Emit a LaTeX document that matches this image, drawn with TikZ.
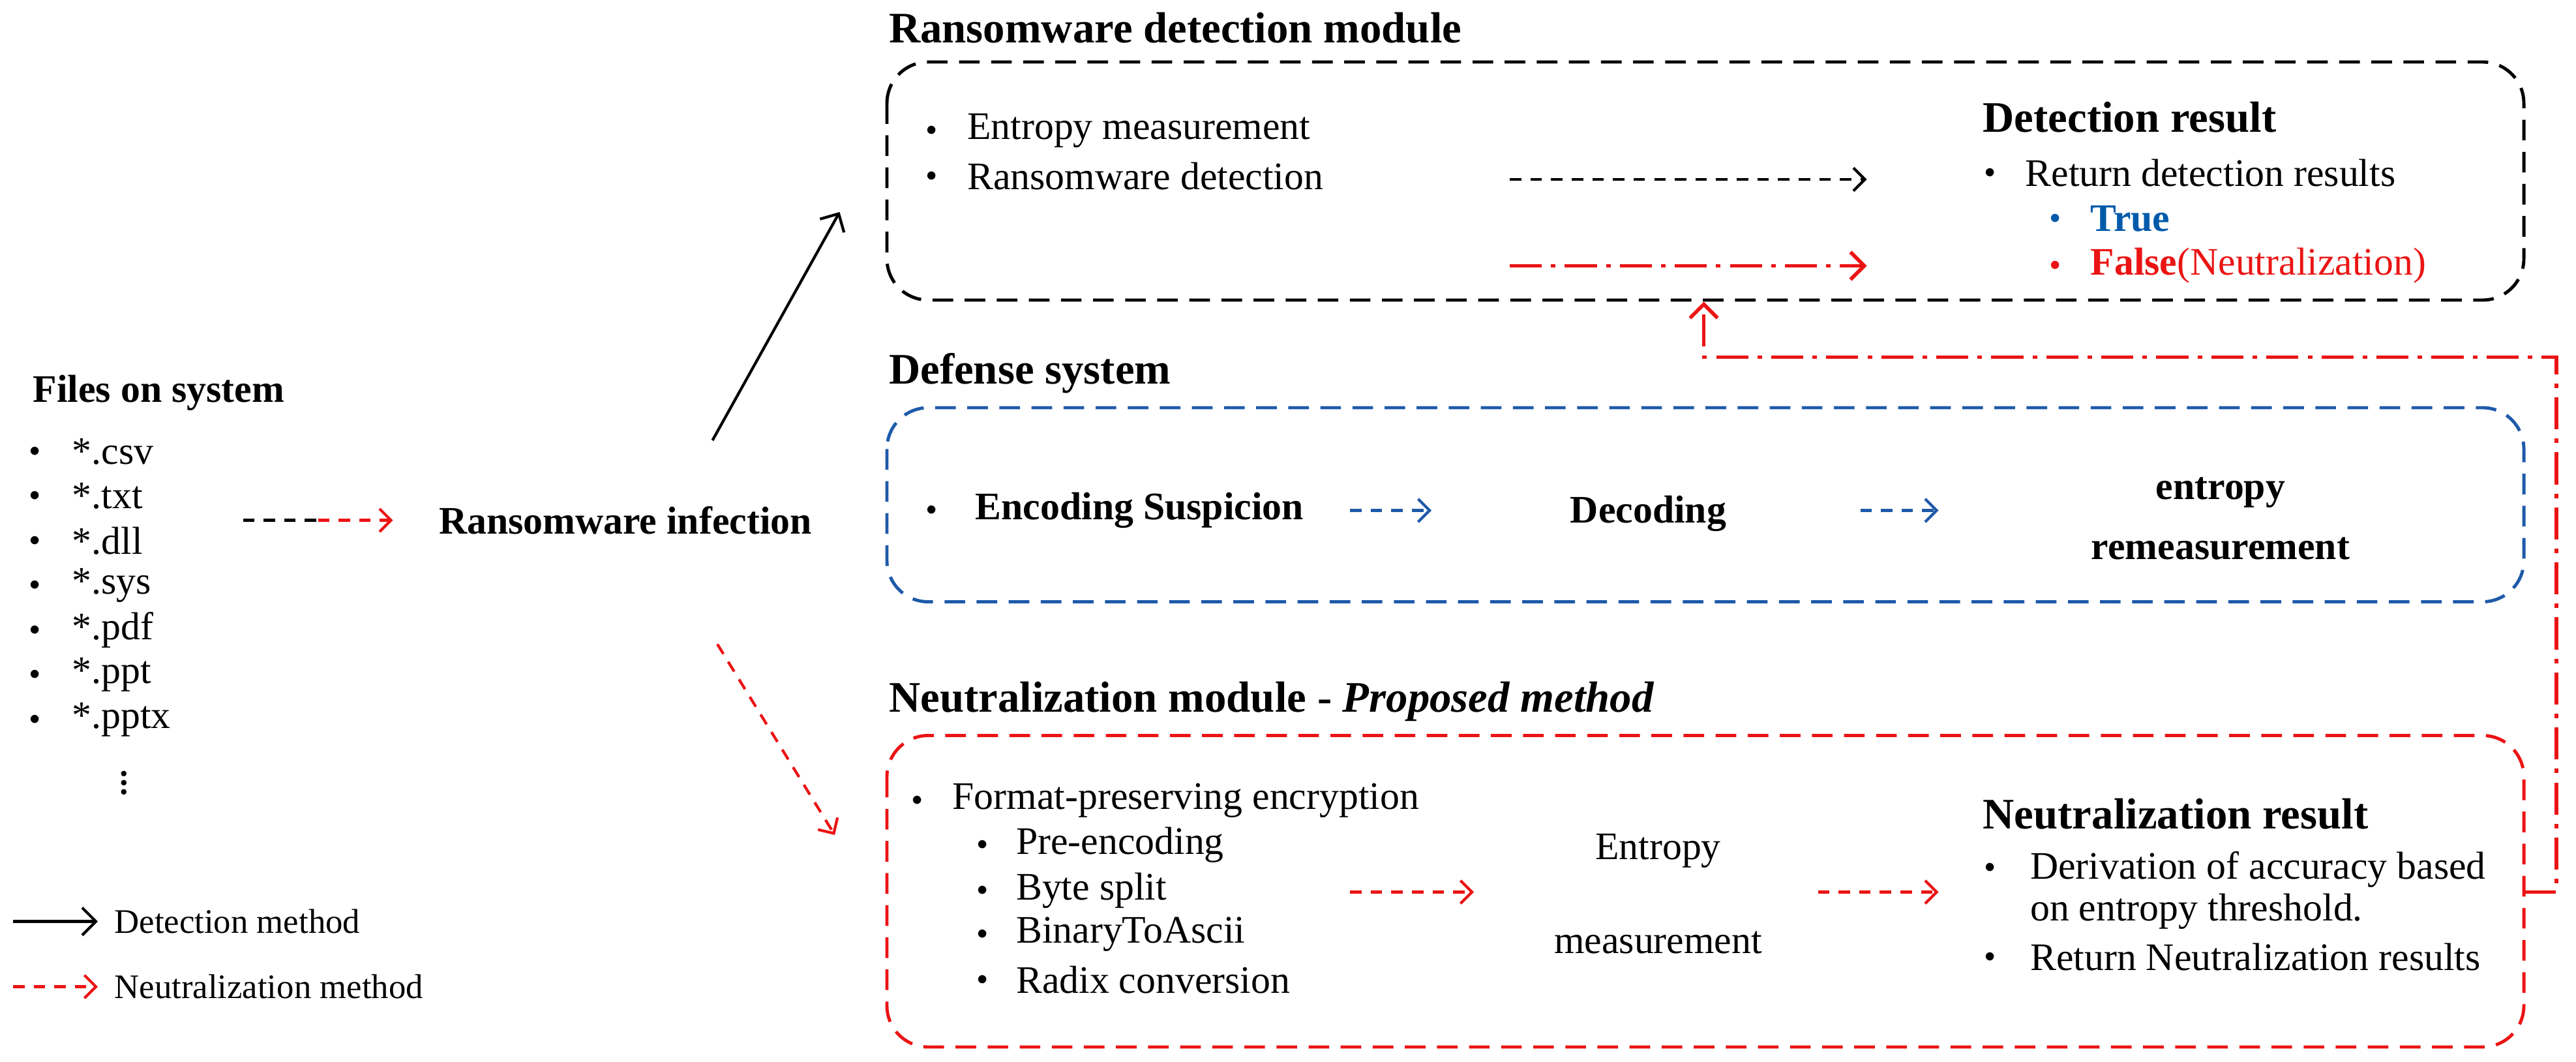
\documentclass[tikz,border=0pt]{standalone}
\usepackage{fontspec}
\setmainfont{Liberation Serif}
\usetikzlibrary{arrows.meta,positioning}
\definecolor{defblue}{RGB}{30, 90, 170}
\definecolor{neured}{RGB}{235, 20, 20}
\definecolor{trueblue}{RGB}{0, 90, 170}

\tikzset{
    txt/.style={anchor=west, inner sep=0pt, font=\fontsize{17}{18}\selectfont},
    btxt/.style={txt, font=\fontsize{17}{18}\selectfont\bfseries},
    ttl/.style={anchor=west, inner sep=0pt, font=\fontsize{19}{20}\selectfont\bfseries},
    modbox/.style={rounded corners=18pt, line width=1.4pt, dash pattern=on 9pt off 5pt},
    dasharr/.style={-{Straight Barb[length=5pt]}, line width=1.2pt, dash pattern=on 5pt off 4pt},
    dotarr/.style={-{Straight Barb[length=6pt]}, line width=1.6pt, neured, dash pattern=on 14pt off 4pt on 2pt off 4pt},
}

\begin{document}
\begin{tikzpicture}[x=0.025cm, y=-0.025cm, >=Stealth]
        \useasboundingbox (0,0) rectangle (1580,651);

        % Files on system (left)
        \node[btxt] (FT) at (20,241) {Files on system};
        \foreach \ext [count=\i] in {csv, txt, dll, sys, pdf, ppt, pptx} {
            \node[txt] (F\i) at (44,{249.5+27.4*\i}) {*.\ext};
            \node[txt, font=\small] at (18,{249.5+27.4*\i}) {$\bullet$};
        }
        \node[inner sep=0pt, font=\fontsize{20}{20}\selectfont] (FD) at (76,476) {$\vdots$};
        \coordinate (FA) at (149,319);
        \coordinate (FB) at (195,319);
        \coordinate (FC) at (241,319);
        \node[btxt] (RI) at (269,319) {Ransomware infection};
        \draw[line width=1.2pt, dash pattern=on 5pt off 4pt] (FA) -- (FB);
        \draw[dasharr, neured] (FB) -- (FC);

        % Module boxes
        \node[ttl] (DT) at (545,17) {Ransomware detection module};
        \draw[modbox] (544,38) rectangle (1548,184);
        \node[ttl] (ST) at (545,229) {Defense system};
        \draw[modbox, defblue] (544,250) rectangle (1548,369);
        \node[ttl] (NT) at (545,430) {Neutralization module - \textit{Proposed method}};
        \draw[modbox, neured] (544,451) rectangle (1548,642);

        % Ransomware detection module
        \node[txt] (D1) at (593,80) {Entropy measurement};
        \node[txt] (D2) at (593,108) {Ransomware detection};
        \node[txt] at (568,80) {\small$\bullet$};
        \node[txt] at (568,108) {\small$\bullet$};
        \node[ttl] (DR) at (1216,72) {Detection result};
        \node[txt] (R1) at (1242,106) {Return detection results};
        \node[txt] at (1217,106) {\small$\bullet$};
        \node[btxt, text=trueblue] (R2) at (1282,134) {True};
        \node[txt, text=trueblue] at (1257,134) {\small$\bullet$};
        \node[btxt, text=neured] (R3) at (1282,163) {False\mdseries(Neutralization)};
        \node[txt, text=neured] at (1257,163) {\small$\bullet$};
        \coordinate (DA) at (926,110);
        \coordinate (DB) at (1145,110);
        \coordinate (DC) at (926,163);
        \coordinate (DD) at (1145,163);
        \draw[dasharr] (DA) -- (DB);
        \draw[dotarr] (DC) -- (DD);

        % Defense system
        \node[btxt] (E1) at (598,313) {Encoding Suspicion};
        \node[txt] at (568,313) {\small$\bullet$};
        \node[btxt, anchor=center] (E2) at (1011,315) {Decoding};
        \node[btxt, anchor=center, align=center, font=\fontsize{17}{26}\selectfont\bfseries] (E3) at (1362,318) {entropy\\remeasurement};
        \draw[dasharr, defblue] (828,313) coordinate (EA) -- (878,313) coordinate (EB);
        \draw[dasharr, defblue] (1141,313) coordinate (EC) -- (1189,313) coordinate (ED);

        % Neutralization module
        \node[txt] (N0) at (584,491) {Format-preserving encryption};
        \node[txt] at (559,491) {\small$\bullet$};
        \foreach \t/\yy in {Pre-encoding/518, Byte split/546, BinaryToAscii/573, Radix conversion/601} {
            \node[txt] at (623,\yy) {\t};
            \node[txt] at (599,\yy) {\small$\bullet$};
        }
        \node[txt, anchor=center, align=center, font=\fontsize{17}{41}\selectfont] (NE) at (1017,548) {Entropy\\measurement};
        \node[ttl] (NR) at (1216,499) {Neutralization result};
        \node[txt, align=left] (NR1) at (1245,546) {Derivation of accuracy based\\on entropy threshold.};
        \node[txt] at (1217,532) {\small$\bullet$};
        \node[txt] (NR2) at (1245,587) {Return Neutralization results};
        \node[txt] at (1217,587) {\small$\bullet$};
        \draw[dasharr, neured] (828,547) coordinate (NA) -- (904,547) coordinate (NB);
        \draw[dasharr, neured] (1115,547) coordinate (NC) -- (1189,547) coordinate (ND);

        % Feedback to detection module
        \coordinate (FBs) at (1548,547);
        \coordinate (FBt) at (1045,185);
        \draw[dotarr] (FBs) -- (1568,547) -- (1568,219) -- (1045,219) -- (FBt);

        % From infection to modules
        \coordinate (IA) at (437,270);
        \coordinate (IB) at (515,130);
        \coordinate (IC) at (440,395);
        \coordinate (ID) at (512,512);
        \draw[-{Straight Barb[length=6pt]}, line width=1.2pt] (IA) -- (IB);
        \draw[dasharr, neured] (IC) -- (ID);

        % Legend
        \coordinate (LA) at (8,565);
        \coordinate (LB) at (60,565);
        \coordinate (LC) at (8,605);
        \coordinate (LD) at (60,605);
        \draw[-{Straight Barb[length=6pt]}, line width=1.2pt] (LA) -- (LB);
        \draw[dasharr, neured] (LC) -- (LD);
        \node[txt, font=\fontsize{15}{16}\selectfont] (L1) at (70,565) {Detection method};
        \node[txt, font=\fontsize{15}{16}\selectfont] (L2) at (70,605) {Neutralization method};
\end{tikzpicture}
\end{document}
